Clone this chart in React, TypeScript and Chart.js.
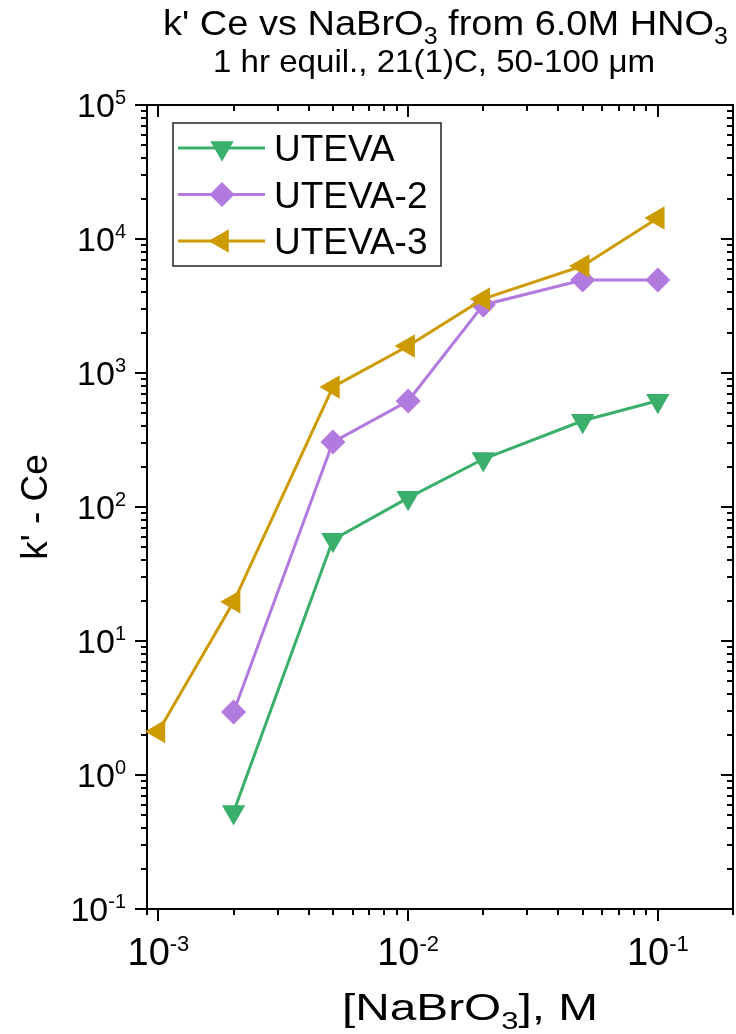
import React, { useEffect, useRef } from 'react';
import { Chart, registerables } from 'chart.js';

Chart.register(...registerables);

// ---- data ----
const seriesNames = ['UTEVA', 'UTEVA-2', 'UTEVA-3'];
const utevaX = [0.002, 0.005, 0.01, 0.02, 0.05, 0.1];
const utevaY = [0.53, 57, 117, 228, 440, 620];
const uteva2X = [0.002, 0.005, 0.01, 0.02, 0.05, 0.1];
const uteva2Y = [2.95, 305, 618, 3220, 4940, 4940];
const uteva3X = [0.001, 0.002, 0.005, 0.01, 0.02, 0.05, 0.1];
const uteva3Y = [2.11, 19.6, 787, 1590, 3570, 6290, 14350];
const xTickExponents = [-3, -2, -1];
const yTickExponents = [-1, 0, 1, 2, 3, 4, 5];
const xMin = 0.0009;
const xMax = 0.2;
const yMin = 0.1;
const yMax = 100000;

const colors = ['#3aae6b', '#b279de', '#cd9a00'];
const FONT = '"Liberation Sans", Arial, sans-serif';

type Part = { t: string; size: number; dy: number };

function drawRich(
  ctx: CanvasRenderingContext2D,
  parts: Part[],
  x: number,
  y: number,
  align: 'left' | 'center' | 'right',
  targetWidth?: number
) {
  let total = 0;
  const widths = parts.map((p) => {
    ctx.font = `${p.size}px ${FONT}`;
    const w = ctx.measureText(p.t).width;
    total += w;
    return w;
  });
  const sx = targetWidth ? targetWidth / total : 1;
  const full = total * sx;
  const x0 = align === 'left' ? x : align === 'center' ? x - full / 2 : x - full;
  ctx.save();
  ctx.translate(x0, y);
  ctx.scale(sx, 1);
  ctx.textAlign = 'left';
  ctx.textBaseline = 'alphabetic';
  let cx = 0;
  parts.forEach((p, i) => {
    ctx.font = `${p.size}px ${FONT}`;
    ctx.fillText(p.t, cx, p.dy);
    cx += widths[i];
  });
  ctx.restore();
}

function powParts(e: number, size: number, supSize: number): Part[] {
  const capH = size * 0.716;
  const supCap = supSize * 0.716;
  return [
    { t: '10', size, dy: 0 },
    { t: String(e), size: supSize, dy: -capH - 3 + supCap },
  ];
}

function markerPath(ctx: CanvasRenderingContext2D, style: string, x: number, y: number, r: number) {
  ctx.beginPath();
  if (style === 'down') {
    ctx.moveTo(x, y + r);
    ctx.lineTo(x - r * 0.866, y - r / 2);
    ctx.lineTo(x + r * 0.866, y - r / 2);
  } else if (style === 'left') {
    ctx.moveTo(x - r, y);
    ctx.lineTo(x + r / 2, y - r * 0.866);
    ctx.lineTo(x + r / 2, y + r * 0.866);
  } else {
    ctx.moveTo(x - r, y);
    ctx.lineTo(x, y - r);
    ctx.lineTo(x + r, y);
    ctx.lineTo(x, y + r);
  }
  ctx.closePath();
}

const framePlugin = {
  id: 'frameTicks',
  beforeDatasetsDraw(chart: any) {
    const ctx: CanvasRenderingContext2D = chart.ctx;
    const xs = chart.scales.x;
    const ys = chart.scales.y;
    const { left, right, top, bottom } = chart.chartArea;
    ctx.save();
    ctx.strokeStyle = '#000';
    ctx.fillStyle = '#000';
    ctx.lineWidth = 2;
    ctx.strokeRect(left, top, right - left, bottom - top);
    const major = 12;
    const minor = 6;
    ctx.beginPath();
    for (let e = -4; e <= 0; e++) {
      for (let m = 1; m <= 9; m++) {
        const v = m * Math.pow(10, e);
        if (v < xMin * 0.999 || v > xMax * 1.001) continue;
        const px = Math.round(xs.getPixelForValue(v));
        const len = m === 1 ? major : minor;
        ctx.moveTo(px, bottom);
        ctx.lineTo(px, bottom + len);
        ctx.moveTo(px, top);
        ctx.lineTo(px, top + len);
      }
    }
    for (let e = -1; e <= 5; e++) {
      for (let m = 1; m <= 9; m++) {
        const v = m * Math.pow(10, e);
        if (v < yMin * 0.999 || v > yMax * 1.001) continue;
        const py = Math.round(ys.getPixelForValue(v));
        const len = m === 1 ? major : minor;
        ctx.moveTo(left, py);
        ctx.lineTo(left - len, py);
        ctx.moveTo(right, py);
        ctx.lineTo(right - len, py);
      }
    }
    ctx.stroke();

    xTickExponents.forEach((e) => {
      const px = xs.getPixelForValue(Math.pow(10, e));
      drawRich(ctx, powParts(e, 38, 22), px, bottom + 29 + 38 * 0.716, 'center');
    });
    yTickExponents.forEach((e) => {
      const py = ys.getPixelForValue(Math.pow(10, e));
      drawRich(ctx, powParts(e, 34, 20), left - 21, py + (34 * 0.716) / 2, 'right');
    });

    drawRich(
      ctx,
      [
        { t: "k' Ce vs NaBrO", size: 35, dy: 0 },
        { t: '3', size: 23, dy: 9 },
        { t: ' from 6.0M HNO', size: 35, dy: 0 },
        { t: '3', size: 23, dy: 9 },
      ],
      445.5,
      35,
      'center',
      565
    );
    drawRich(ctx, [{ t: '1 hr equil., 21(1)C, 50-100 \u03bcm', size: 30.5, dy: 0 }], 434, 72, 'center', 442);
    drawRich(
      ctx,
      [
        { t: '[NaBrO', size: 37, dy: 0 },
        { t: '3', size: 24, dy: 9 },
        { t: '], M', size: 37, dy: 0 },
      ],
      470,
      1020,
      'center',
      256
    );
    ctx.save();
    ctx.translate(47, 507);
    ctx.rotate(-Math.PI / 2);
    drawRich(ctx, [{ t: "k' - Ce", size: 37, dy: 0 }], 0, 0, 'center');
    ctx.restore();
    ctx.restore();
  },
  afterDatasetsDraw(chart: any) {
    const ctx: CanvasRenderingContext2D = chart.ctx;
    ctx.save();
    ctx.strokeStyle = '#222';
    ctx.lineWidth = 1.5;
    ctx.fillStyle = '#fff';
    ctx.fillRect(173, 123, 268, 143);
    ctx.strokeRect(173, 123, 268, 143);
    const styles = ['down', 'rectRot', 'left'];
    const radii = [13.5, 12.5, 13.5];
    const rowY = [148, 194.5, 241];
    seriesNames.forEach((name, i) => {
      const y = rowY[i];
      ctx.strokeStyle = colors[i];
      ctx.lineWidth = 3;
      ctx.beginPath();
      ctx.moveTo(178, y);
      ctx.lineTo(265, y);
      ctx.stroke();
      ctx.fillStyle = colors[i];
      markerPath(ctx, styles[i], 222, y, radii[i]);
      ctx.fill();
      ctx.fillStyle = '#000';
      drawRich(ctx, [{ t: name, size: 37, dy: 0 }], 274, y + (37 * 0.716) / 2, 'left');
    });
    ctx.restore();
  },
};

function toPoints(xs: number[], ys: number[]) {
  return xs.map((x, i) => ({ x, y: ys[i] }));
}

export default function App() {
  const ref = useRef<HTMLCanvasElement | null>(null);
  useEffect(() => {
    if (!ref.current) return;
    const chart = new Chart(ref.current, {
      type: 'line',
      data: {
        datasets: [
          {
            label: seriesNames[0],
            data: toPoints(utevaX, utevaY),
            borderColor: colors[0],
            backgroundColor: colors[0],
            borderWidth: 3,
            pointStyle: 'triangle',
            rotation: 180,
            pointRadius: 13.5,
            pointBorderWidth: 0,
            order: 2,
            clip: false,
          },
          {
            label: seriesNames[1],
            data: toPoints(uteva2X, uteva2Y),
            borderColor: colors[1],
            backgroundColor: colors[1],
            borderWidth: 3,
            pointStyle: 'rectRot',
            pointRadius: 12.5,
            pointBorderWidth: 0,
            order: 1,
            clip: false,
          },
          {
            label: seriesNames[2],
            data: toPoints(uteva3X, uteva3Y),
            borderColor: colors[2],
            backgroundColor: colors[2],
            borderWidth: 3,
            pointStyle: 'triangle',
            rotation: -90,
            pointRadius: 13.5,
            pointBorderWidth: 0,
            order: 0,
            clip: false,
          },
        ] as any,
      },
      options: {
        animation: false,
        responsive: false,
        devicePixelRatio: 1,
        layout: { autoPadding: false, padding: { left: 147, right: 3, top: 105, bottom: 125 } },
        plugins: { legend: { display: false }, tooltip: { enabled: false }, title: { display: false } },
        elements: { line: { tension: 0 } },
        scales: {
          x: { type: 'logarithmic', min: xMin, max: xMax, display: false },
          y: { type: 'logarithmic', min: yMin, max: yMax, display: false },
        },
      } as any,
      plugins: [framePlugin],
    });
    return () => chart.destroy();
  }, []);
  return (
    <div style={{ position: 'absolute', left: 0, top: 0, width: 736, height: 1034, background: '#fff' }}>
      <canvas ref={ref} width={736} height={1034} style={{ display: 'block' }} />
    </div>
  );
}
